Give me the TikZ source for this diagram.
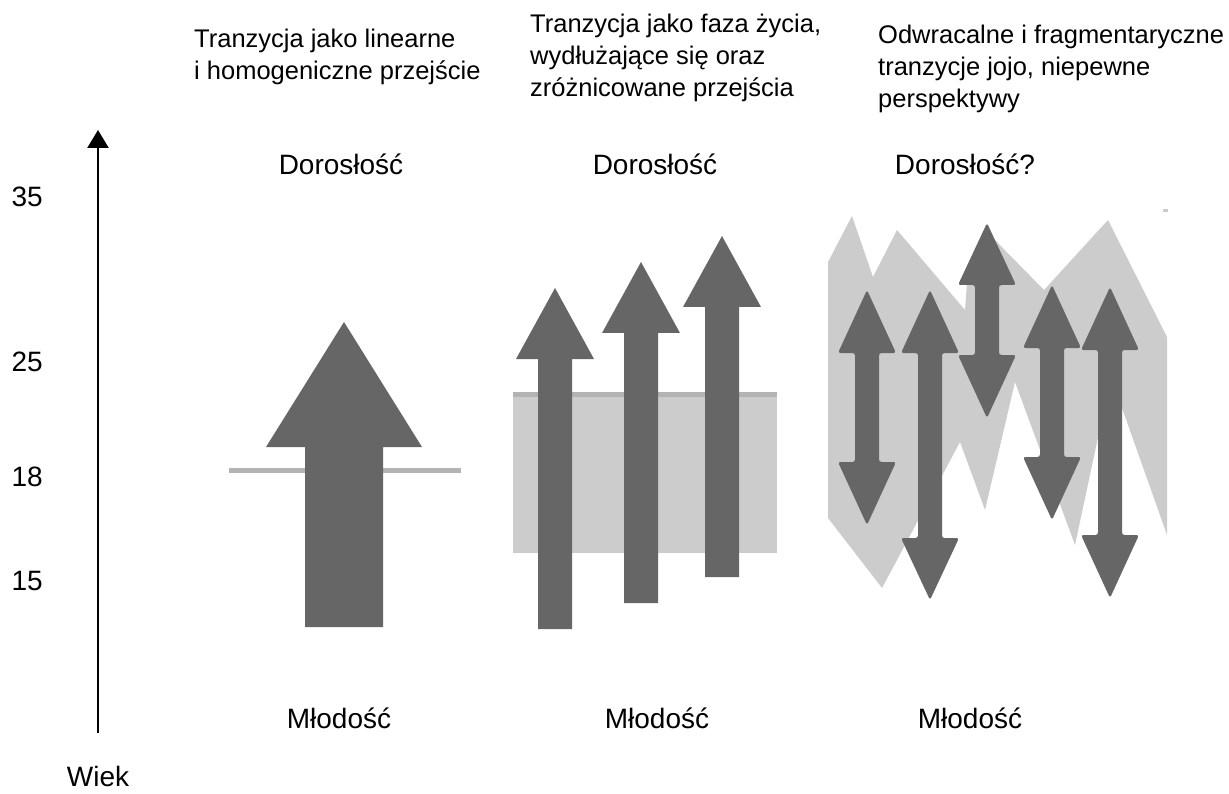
\documentclass[tikz,border=0pt]{standalone}
\usepackage{fontspec}
\setmainfont{Liberation Sans}
\usetikzlibrary{arrows.meta}
\definecolor{darkg}{HTML}{666666}
\definecolor{lightg}{HTML}{CCCCCC}
\definecolor{lineg}{HTML}{B3B3B3}
\newcommand\myuparrow[6]{%
  \fill[darkg] ({#1-#6},#4) -- ({#1-#6},#3) -- ({#1-#5},#3) -- (#1,#2) -- ({#1+#5},#3) -- ({#1+#6},#3) -- ({#1+#6},#4) -- cycle;}
\newcommand\mydblarrow[5]{%
  \fill[darkg, rounded corners=2.5pt] ({#1-12},#3) -- ({#1-29},#3) -- (#1,#2) -- ({#1+29},#3) -- ({#1+12},#3) -- ({#1+12},#4) -- ({#1+29},#4) -- (#1,#5) -- ({#1-29},#4) -- ({#1-12},#4) -- cycle;}
\tikzset{
  title/.style={anchor=base west, inner sep=0pt, font=\fontsize{25.5}{30}\selectfont},
  label/.style={anchor=base, inner sep=0pt, font=\fontsize{28}{32}\selectfont},
  num/.style={anchor=base east, inner sep=0pt, font=\fontsize{28}{32}\selectfont},
}
\begin{document}
\begin{tikzpicture}[x=1pt,y=-1pt]
\useasboundingbox (0,0) rectangle (1229,794);
% axis
\coordinate (axb) at (98,733);
\coordinate (axt) at (98,130);
\draw[line width=2.6pt, -{Triangle[width=21pt,length=18pt]}] (axb) -- (axt);
\node[num] (n35) at (43,207) {35};
\node[num] (n25) at (43,371) {25};
\node[num] (n18) at (43,486) {18};
\node[num] (n15) at (43,590) {15};
\node[label] (wiek) at (98,786) {Wiek};
% titles
\node[title] (t1a) at (194,48) {Tranzycja jako linearne};
\node[title] (t1b) at (194,80) {i homogeniczne przejście};
\node[title] (t2a) at (530,33) {Tranzycja jako faza życia,};
\node[title] (t2b) at (530,65) {wydłużające się oraz};
\node[title] (t2c) at (530,97) {zróżnicowane przejścia};
\node[title] (t3a) at (878,44) {Odwracalne i fragmentaryczne};
\node[title] (t3b) at (878,76) {tranzycje jojo, niepewne};
\node[title] (t3c) at (878,108) {perspektywy};
% labels
\node[label] (d1) at (341,175) {Dorosłość};
\node[label] (d2) at (655,175) {Dorosłość};
\node[label] (d3) at (965,175) {Dorosłość?};
\node[label] (m1) at (339,728) {Młodość};
\node[label] (m2) at (657,728) {Młodość};
\node[label] (m3) at (970,728) {Młodość};
% panel 1
\fill[lineg] (229,468) rectangle (461,472.5);
\myuparrow{344}{322}{447}{627}{78}{39}
% panel 2
\fill[lightg] (513,392) rectangle (777,553);
\fill[lineg] (513,392) rectangle (777,397);
\myuparrow{555}{288}{359}{629}{39}{17}
\myuparrow{641}{262}{333}{603}{39}{17}
\myuparrow{722}{236}{307}{577}{39}{17}
% panel 3
\fill[lightg] (828,262) -- (852,216) -- (873,277) -- (897,230) -- (965,310) -- (968,270) -- (990,235) -- (1044,290) -- (1108,220) -- (1167,337) -- (1167,535) -- (1111,377) -- (1075,545) -- (1015,382) -- (985,510) -- (960,442) -- (882,588) -- (828,518) -- cycle;
\fill[lightg] (1163,209) rectangle (1168,212);
\mydblarrow{867}{290}{353}{462}{525}
\mydblarrow{930}{290}{353}{538}{600}
\mydblarrow{987}{223}{285}{355}{418}
\mydblarrow{1052}{285}{348}{457}{520}
\mydblarrow{1110}{287}{350}{535}{598}
\end{tikzpicture}
\end{document}
